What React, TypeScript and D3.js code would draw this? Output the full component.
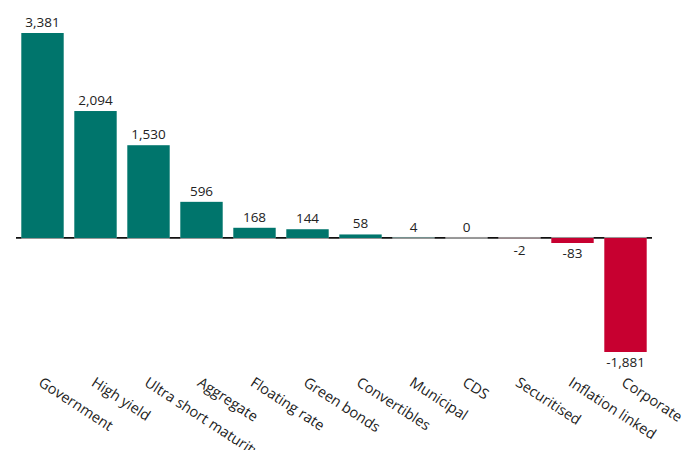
import React, { useEffect, useRef } from 'react';
import * as d3 from 'd3';

const categories = [
  'Government', 'High yield', 'Ultra short maturity', 'Aggregate', 'Floating rate',
  'Green bonds', 'Convertibles', 'Municipal', 'CDS', 'Securitised', 'Inflation linked', 'Corporate',
];
const values = [3381, 2094, 1530, 596, 168, 144, 58, 4, 0, -2, -83, -1881];
const valueLabels = ['3,381', '2,094', '1,530', '596', '168', '144', '58', '4', '0', '-2', '-83', '-1,881'];

const TEAL = '#00756c';
const RED = '#c70030';
const TEXT = '#222';

const App: React.FC = () => {
  const ref = useRef<SVGSVGElement | null>(null);

  useEffect(() => {
    if (!ref.current) return;
    const svg = d3.select(ref.current);
    svg.selectAll('*').remove();

    const x = d3.scaleBand<string>().domain(categories).range([16, 652]).paddingInner(0.2).paddingOuter(0.1);
    const y = d3.scaleLinear().domain([-1881, 3381]).range([352, 33]);
    const y0 = y(0);

    // zero line: black between bars, grey under each band
    svg.append('line')
      .attr('x1', 16).attr('x2', 652).attr('y1', y0).attr('y2', y0)
      .attr('stroke', '#111').attr('stroke-width', 1.8);
    svg.selectAll('.zero-band')
      .data(categories)
      .enter().append('rect')
      .attr('x', d => x(d)!)
      .attr('y', y0 - 1)
      .attr('width', x.bandwidth())
      .attr('height', 2)
      .attr('fill', '#9a9a9a');

    svg.selectAll('.bar')
      .data(values)
      .enter().append('rect')
      .attr('x', (_, i) => x(categories[i])!)
      .attr('y', d => (d >= 0 ? y(d) : y0))
      .attr('width', x.bandwidth())
      .attr('height', d => Math.abs(y(d) - y0))
      .attr('fill', d => (d >= 0 ? TEAL : RED));

    svg.selectAll('.val')
      .data(values)
      .enter().append('text')
      .attr('x', (_, i) => x(categories[i])! + x.bandwidth() / 2)
      .attr('y', d => (d >= 0 ? y(d) - 6 : Math.max(y(d), y0 + 2) + 15))
      .attr('text-anchor', 'middle')
      .attr('font-family', '"Open Sans", sans-serif')
      .attr('font-size', 13.5)
      .attr('fill', TEXT)
      .text((_, i) => valueLabels[i]);

    svg.selectAll('.cat')
      .data(categories)
      .enter().append('text')
      .attr('transform', d => `translate(${x(d)! + x.bandwidth() / 2 - 5},385) rotate(33)`)
      .attr('text-anchor', 'start')
      .attr('font-family', '"Open Sans", sans-serif')
      .attr('font-size', 14.5)
      .attr('fill', TEXT)
      .text(d => d);
  }, []);

  return (
    <svg
      ref={ref}
      width={700}
      height={450}
      style={{ position: 'absolute', left: 0, top: 0, background: '#fff' }}
    />
  );
};

export default App;
